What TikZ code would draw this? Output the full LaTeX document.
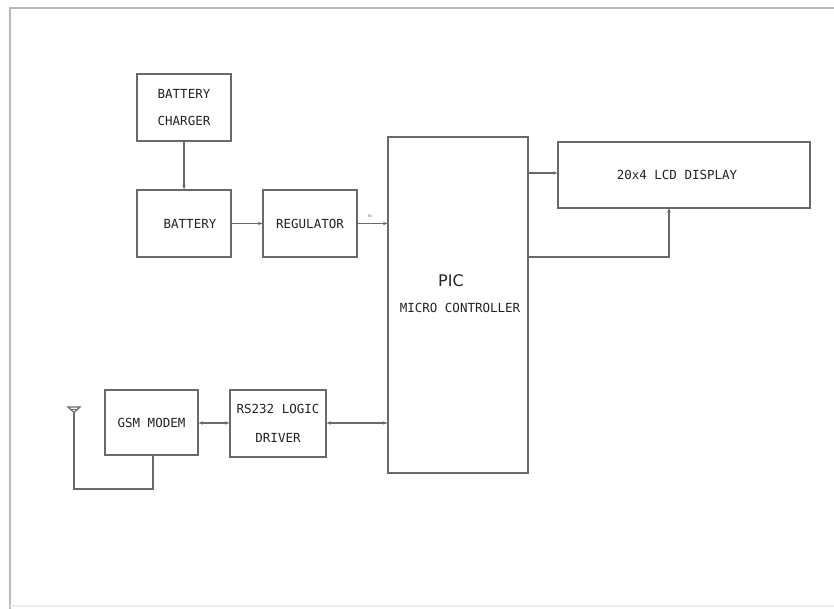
\documentclass[tikz,border=0pt]{standalone}
\usepackage{fontspec}
\setmonofont{DejaVu Sans Mono}
\setsansfont{DejaVu Sans}
\usetikzlibrary{arrows.meta}
\definecolor{ln}{RGB}{105,105,105}
\definecolor{tx}{RGB}{35,35,35}
\tikzset{
  blk/.style={draw=ln, line width=1.2pt, fill=white, inner sep=0pt, font=\ttfamily\fontsize{12.5}{14}\selectfont, text=tx, align=center},
  conn/.style={draw=ln, line width=1.2pt, -{Stealth[length=4.5pt,width=3.5pt]}},
  biconn/.style={draw=ln, line width=1.2pt, {Stealth[length=4.5pt,width=3.5pt]}-{Stealth[length=4.5pt,width=3.5pt]}},
  wire/.style={draw=ln, line width=1.2pt},
}
\begin{document}
\begin{tikzpicture}[x=1pt,y=-1pt]
\useasboundingbox (0,0) rectangle (834,609);
% outer frame
\draw[gray!55, line width=1.6pt] (10,609) -- (10,8) -- (834,8);
\draw[gray!15, line width=1.2pt] (10,606) -- (834,606);

\node[blk, minimum width=94pt, minimum height=67pt] (chg) at (184,107.5) {BATTERY\\[13pt]CHARGER};
\node[blk, minimum width=94pt, minimum height=67pt] (bat) at (184,223.5) {\hspace*{12pt}BATTERY};
\node[blk, minimum width=94pt, minimum height=67pt] (reg) at (310,223.5) {REGULATOR};
\node[blk, minimum width=140pt, minimum height=336pt] (pic) at (458,305) {};
\node[font=\sffamily\fontsize{16}{18}\selectfont, text=tx] (pict) at (451,281) {PIC};
\node[font=\ttfamily\fontsize{12.5}{14}\selectfont, text=tx] (mct) at (460,308) {MICRO CONTROLLER};
\node[blk, minimum width=252pt, minimum height=66pt] (lcd) at (684,175) {\hspace*{-14pt}20x4 LCD DISPLAY};
\node[blk, minimum width=93pt, minimum height=65pt] (gsm) at (151.5,422.5) {GSM MODEM};
\node[blk, minimum width=96pt, minimum height=67pt] (rs) at (278,423.5) {RS232 LOGIC\\[15pt]DRIVER};

% connectors
\draw[conn] (chg.south) -- (bat.north);
\draw[conn] (bat.east) -- (reg.east -| reg.west);
\draw[conn] (reg.east) -- (reg.east -| pic.west);
\node[font=\sffamily\fontsize{4}{5}\selectfont, text=ln] (fivev) at (370,216) {5v};
\draw[conn] (pic.east |- 0,173) -- (lcd.west |- 0,173);
\coordinate (lcdtap) at (669,208);
\draw[conn] (pic.east |- 0,257) -| (lcdtap);
\draw[biconn] (gsm.east |- 0,423) -- (rs.west |- 0,423);
\draw[biconn] (rs.east |- 0,423) -- (pic.west |- 0,423);

% antenna
\coordinate (ant) at (74,412.5);
\draw[wire] (68,407) -- (80,407) -- (ant) -- cycle;
\draw[wire] (70,409.5) -- (78,409.5);
\draw[wire] (ant) -- (74,489) -| (gsm.south -| 153,0);
\end{tikzpicture}
\end{document}
